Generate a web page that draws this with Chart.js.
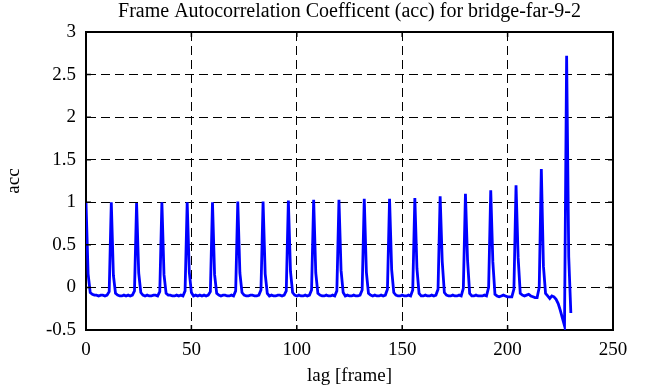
<!DOCTYPE html>
<html>
<head>
<meta charset="utf-8">
<script src="https://cdn.jsdelivr.net/npm/chart.js@4/dist/chart.umd.min.js"></script>
<style>
  body { margin: 0; background: #fff; }
</style>
</head>
<body>
<canvas id="my-chart" width="646" height="387"></canvas>
<script>
const chartTitle = 'Frame Autocorrelation Coefficent (acc) for bridge-far-9-2';
const xTitle = 'lag [frame]';
const yTitle = 'acc';
const xTickValues = [0, 50, 100, 150, 200, 250];
const yTickValues = [-0.5, 0, 0.5, 1, 1.5, 2, 2.5, 3];

// lag 0 .. 230
const lags = Array.from({length: 231}, (_, i) => i);
// one row per 12-frame period
const acc = [
  1.00, 0.16, -0.06, -0.08, -0.09, -0.09, -0.10, -0.09, -0.09, -0.10, -0.09, -0.05,
  1.00, 0.14, -0.07, -0.09, -0.10, -0.10, -0.09, -0.10, -0.09, -0.10, -0.09, -0.04,
  0.99, 0.17, -0.06, -0.09, -0.10, -0.09, -0.10, -0.10, -0.09, -0.09, -0.10, -0.05,
  1.00, 0.15, -0.07, -0.09, -0.09, -0.10, -0.10, -0.09, -0.10, -0.09, -0.10, -0.04,
  1.00, 0.18, -0.06, -0.10, -0.09, -0.10, -0.09, -0.10, -0.09, -0.10, -0.09, -0.05,
  1.00, 0.15, -0.07, -0.09, -0.10, -0.09, -0.09, -0.10, -0.10, -0.09, -0.10, -0.04,
  1.01, 0.17, -0.06, -0.09, -0.10, -0.10, -0.09, -0.09, -0.10, -0.10, -0.09, -0.03,
  1.01, 0.16, -0.07, -0.10, -0.09, -0.10, -0.10, -0.09, -0.09, -0.10, -0.09, -0.04,
  1.02, 0.19, -0.06, -0.09, -0.10, -0.09, -0.10, -0.10, -0.09, -0.10, -0.09, -0.03,
  1.03, 0.17, -0.07, -0.09, -0.10, -0.10, -0.09, -0.10, -0.10, -0.09, -0.10, -0.04,
  1.03, 0.20, -0.06, -0.10, -0.09, -0.10, -0.10, -0.09, -0.10, -0.10, -0.09, -0.03,
  1.04, 0.18, -0.07, -0.09, -0.10, -0.09, -0.10, -0.10, -0.09, -0.10, -0.09, -0.02,
  1.04, 0.21, -0.06, -0.09, -0.10, -0.10, -0.09, -0.10, -0.10, -0.09, -0.10, -0.03,
  1.05, 0.22, -0.07, -0.10, -0.10, -0.09, -0.10, -0.10, -0.09, -0.10, -0.09, -0.02,
  1.07, 0.30, -0.06, -0.09, -0.10, -0.10, -0.09, -0.10, -0.10, -0.09, -0.10, -0.01,
  1.10, 0.32, -0.07, -0.10, -0.10, -0.09, -0.10, -0.10, -0.10, -0.09, -0.10, 0.00,
  1.14, 0.30, -0.08, -0.10, -0.11, -0.10, -0.09, -0.10, -0.11, -0.11, -0.11, -0.02,
  1.20, 0.35, -0.07, -0.09, -0.10, -0.09, -0.08, -0.10, -0.11, -0.12, -0.12, 0.00,
  1.39, 0.25, -0.07, -0.10, -0.13, -0.10, -0.11, -0.14, -0.19, -0.27, -0.36, -0.45,
  2.72, 0.36, -0.30
];

const serif = 'Liberation Serif';

// short solid tick marks pointing into the plot, on all four sides
const innerTicks = {
  id: 'innerTicks',
  afterDraw(chart) {
    const {ctx, chartArea: a, scales} = chart;
    ctx.save();
    ctx.strokeStyle = '#000';
    ctx.lineWidth = 1.5;
    ctx.beginPath();
    xTickValues.forEach(v => {
      const px = scales.x.getPixelForValue(v);
      ctx.moveTo(px, a.bottom); ctx.lineTo(px, a.bottom - 5);
      ctx.moveTo(px, a.top); ctx.lineTo(px, a.top + 5);
    });
    yTickValues.forEach(v => {
      const py = scales.y.getPixelForValue(v);
      ctx.moveTo(a.left, py); ctx.lineTo(a.left + 5, py);
      ctx.moveTo(a.right, py); ctx.lineTo(a.right - 5, py);
    });
    ctx.stroke();
    ctx.restore();
  }
};

const dashGrid = {color: '#000', lineWidth: 1, drawTicks: false};
const frameBorder = {display: true, color: '#000', width: 2, dash: [9, 5]};

const ctx = document.getElementById('my-chart').getContext('2d');
const chart = new Chart(ctx, {
  type: 'line',
  data: {
    datasets: [{
      data: lags.map((lag, i) => ({x: lag, y: acc[i]})),
      borderColor: '#0000ff',
      borderWidth: 2.8,
      pointRadius: 0,
      tension: 0,
      fill: false
    }]
  },
  options: {
    responsive: false,
    animation: false,
    devicePixelRatio: 1,
    layout: {padding: 0},
    plugins: {
      legend: {display: false},
      title: {display: false},
      tooltip: {enabled: false}
    },
    scales: {
      x: {
        type: 'linear', position: 'bottom', min: 0, max: 250,
        afterBuildTicks: s => { s.ticks = xTickValues.map(v => ({value: v})); },
        afterFit: s => { s.height = 57; },
        grid: dashGrid,
        border: frameBorder,
        ticks: {color: '#000', padding: 9, maxRotation: 0, font: {family: serif, size: 19},
                callback: v => String(v)},
        title: {display: true, text: xTitle, color: '#000', padding: 0, font: {family: serif, size: 19}}
      },
      x2: {
        type: 'linear', position: 'top', min: 0, max: 250,
        afterFit: s => { s.height = 32; },
        grid: {display: false},
        border: {display: true, color: '#000', width: 2},
        ticks: {display: false},
        title: {display: true, text: chartTitle, color: '#000', padding: 0, font: {family: serif, size: 20}}
      },
      y: {
        type: 'linear', position: 'left', min: -0.5, max: 3,
        afterBuildTicks: s => { s.ticks = yTickValues.map(v => ({value: v})); },
        afterFit: s => { s.width = 86; },
        grid: dashGrid,
        border: frameBorder,
        ticks: {color: '#000', padding: 10, font: {family: serif, size: 19},
                callback: v => String(v)},
        title: {display: true, text: yTitle, color: '#000', padding: {top: 3}, font: {family: serif, size: 19}}
      },
      y2: {
        type: 'linear', position: 'right', min: -0.5, max: 3,
        afterFit: s => { s.width = 33; },
        grid: {display: false},
        border: {display: true, color: '#000', width: 2},
        ticks: {display: false}
      }
    }
  },
  plugins: [innerTicks]
});
</script>
</body>
</html>
